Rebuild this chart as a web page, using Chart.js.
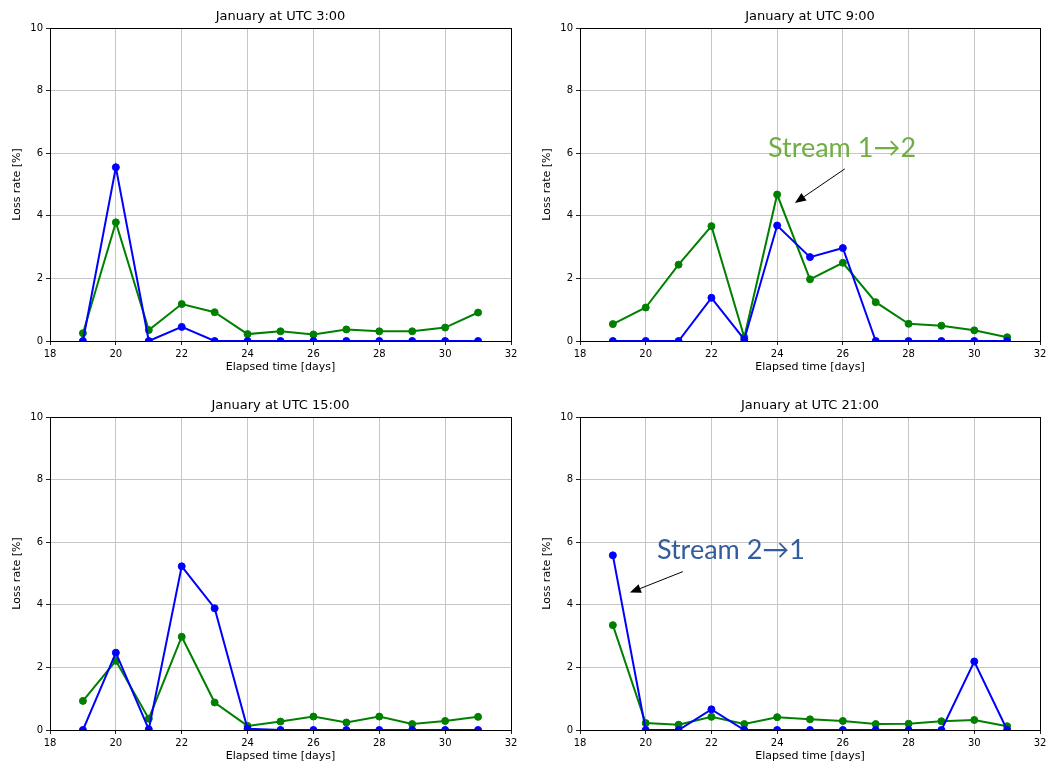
<!DOCTYPE html>
<html>
<head>
<meta charset="utf-8">
<script src="https://cdn.jsdelivr.net/npm/chart.js@4/dist/chart.umd.min.js"></script>
<style>
  html, body { margin: 0; padding: 0; background: #fff; }
  body { width: 1046px; height: 767px; overflow: hidden; position: relative; }
  .panel { position: absolute; }
</style>
</head>
<body>
<div class="panel" id="p1" style="left:0;top:0;width:523px;height:385px"><canvas id="c1"></canvas></div>
<div class="panel" id="p2" style="left:530px;top:0;width:520px;height:385px"><canvas id="c2"></canvas></div>
<div class="panel" id="p3" style="left:0;top:389px;width:523px;height:385px"><canvas id="c3"></canvas></div>
<div class="panel" id="p4" style="left:530px;top:389px;width:520px;height:385px"><canvas id="c4"></canvas></div>
<script>
// Elapsed time (days) of each measurement
const days = [19, 20, 21, 22, 23, 24, 25, 26, 27, 28, 29, 30, 31];

// Axis ranges / tick spacing
const xTickMin = 18, xTickMax = 32, xTickStep = 2;
const yTickMin = 0, yTickMax = 10, yTickStep = 2;

// Loss rate [%] — stream 2→1 (blue) and stream 1→2 (green)
const blueUTC03  = [0, 5.55, 0, 0.45, 0, 0, 0, 0, 0, 0, 0, 0, 0];
const greenUTC03 = [0.25, 3.79, 0.35, 1.18, 0.92, 0.22, 0.31, 0.21, 0.37, 0.31, 0.31, 0.43, 0.91];

const blueUTC09  = [0, 0, 0, 1.38, 0.05, 3.69, 2.68, 2.97, 0, 0, 0, 0, 0];
const greenUTC09 = [0.54, 1.07, 2.44, 3.67, 0.12, 4.68, 1.97, 2.50, 1.24, 0.55, 0.49, 0.34, 0.12];

const blueUTC15  = [0, 2.47, 0.02, 5.23, 3.89, 0.04, 0, 0, 0, 0, 0, 0, 0];
const greenUTC15 = [0.93, 2.21, 0.36, 2.98, 0.88, 0.13, 0.27, 0.43, 0.24, 0.43, 0.19, 0.29, 0.42];

const blueUTC21  = [5.58, 0, 0, 0.66, 0, 0, 0, 0, 0, 0, 0, 2.19, 0];
const greenUTC21 = [3.35, 0.22, 0.17, 0.42, 0.19, 0.41, 0.34, 0.29, 0.19, 0.20, 0.28, 0.32, 0.12];

const panelTitles = ['January at UTC 3:00', 'January at UTC 9:00', 'January at UTC 15:00', 'January at UTC 21:00'];

const BLUE = '#0000ff';
const GREEN = '#008000';

function toPoints(values) {
  return days.map((d, i) => ({ x: d, y: values[i] }));
}

// Title centred over the plot area, plus the full black frame (all four spines)
const framePlugin = {
  id: 'frame',
  afterDraw(chart, args, opts) {
    const { ctx, chartArea: a } = chart;
    ctx.save();
    ctx.strokeStyle = '#000';
    ctx.lineWidth = 1;
    ctx.strokeRect(Math.round(a.left) + 0.5, Math.round(a.top) + 0.5,
                   Math.round(a.right - a.left), Math.round(a.bottom - a.top));
    ctx.fillStyle = '#000';
    ctx.font = '13px "DejaVu Sans"';
    ctx.textAlign = 'center';
    ctx.textBaseline = 'middle';
    ctx.fillText(opts.title || '', (a.left + a.right) / 2, a.top - 11);
    ctx.restore();
  }
};

// Text callout with an arrow, positioned in data coordinates
const calloutPlugin = {
  id: 'callout',
  afterDraw(chart, args, opts) {
    if (!opts || !opts.text) return;
    const { ctx } = chart;
    const xs = chart.scales.x, ys = chart.scales.y;
    const px = v => xs.getPixelForValue(v);
    const py = v => ys.getPixelForValue(v);
    ctx.save();
    ctx.fillStyle = opts.color;
    ctx.font = opts.font;
    ctx.textAlign = 'left';
    ctx.textBaseline = 'middle';
    ctx.fillText(opts.text, px(opts.textX), py(opts.textY));

    const x0 = px(opts.tail[0]), y0 = py(opts.tail[1]);
    const x1 = px(opts.tip[0]), y1 = py(opts.tip[1]);
    const ang = Math.atan2(y1 - y0, x1 - x0);
    const headLen = 11, headHalf = 4.5;
    const bx = x1 - headLen * Math.cos(ang), by = y1 - headLen * Math.sin(ang);
    ctx.strokeStyle = '#000';
    ctx.lineWidth = 1;
    ctx.beginPath();
    ctx.moveTo(x0, y0);
    ctx.lineTo(bx, by);
    ctx.stroke();
    ctx.fillStyle = '#000';
    ctx.beginPath();
    ctx.moveTo(x1, y1);
    ctx.lineTo(bx + headHalf * Math.sin(ang), by - headHalf * Math.cos(ang));
    ctx.lineTo(bx - headHalf * Math.sin(ang), by + headHalf * Math.cos(ang));
    ctx.closePath();
    ctx.fill();
    ctx.restore();
  }
};

function makeChart(canvasId, title, blue, green, rightPad, callout) {
  const series = (values, color, order) => ({
    data: toPoints(values),
    borderColor: color,
    backgroundColor: color,
    borderWidth: 2,
    pointRadius: 3.5,
    pointBorderWidth: 1,
    pointHoverRadius: 3.5,
    pointBackgroundColor: color,
    pointBorderColor: color,
    tension: 0,
    clip: 0,
    order: order
  });
  return new Chart(document.getElementById(canvasId), {
    type: 'line',
    data: {
      datasets: [
        series(blue, BLUE, 0),
        series(green, GREEN, 1)
      ]
    },
    options: {
      responsive: true,
      maintainAspectRatio: false,
      animation: false,
      events: [],
      layout: { padding: { left: 0, right: rightPad, top: 28, bottom: 0 } },
      plugins: {
        legend: { display: false },
        tooltip: { enabled: false },
        title: { display: false },
        frame: { title: title },
        callout: callout || {}
      },
      scales: {
        x: {
          type: 'linear',
          min: xTickMin,
          max: xTickMax,
          afterFit: s => { s.height = 44; },
          ticks: {
            stepSize: xTickStep,
            autoSkip: false,
            maxRotation: 0,
            padding: 3,
            color: '#000',
            font: { family: 'DejaVu Sans', size: 10 }
          },
          grid: { color: '#c6c6c6', lineWidth: 1, tickColor: '#222', tickLength: 4 },
          border: { display: false },
          title: {
            display: true,
            text: 'Elapsed time [days]',
            color: '#000',
            font: { family: 'DejaVu Sans', size: 11 },
            padding: { top: 0, bottom: 11 }
          }
        },
        y: {
          type: 'linear',
          min: yTickMin,
          max: yTickMax,
          afterFit: s => { s.width = 50; },
          ticks: {
            stepSize: yTickStep,
            padding: 3,
            color: '#000',
            font: { family: 'DejaVu Sans', size: 10 }
          },
          grid: { color: '#c6c6c6', lineWidth: 1, tickColor: '#222', tickLength: 4 },
          border: { display: false },
          title: {
            display: true,
            text: 'Loss rate [%]',
            color: '#000',
            font: { family: 'DejaVu Sans', size: 11 },
            padding: { top: 11, bottom: 0 }
          }
        }
      }
    },
    plugins: [framePlugin, calloutPlugin]
  });
}

makeChart('c1', panelTitles[0], blueUTC03, greenUTC03, 12, null);
makeChart('c2', panelTitles[1], blueUTC09, greenUTC09, 10, {
  text: 'Stream 1\u21922', color: '#70ad47', font: '27px Lato',
  textX: 23.72, textY: 6.15, tail: [26.06, 5.5], tip: [24.54, 4.41]
});
makeChart('c3', panelTitles[2], blueUTC15, greenUTC15, 12, null);
makeChart('c4', panelTitles[3], blueUTC21, greenUTC21, 10, {
  text: 'Stream 2\u21921', color: '#335c9e', font: '27px Lato',
  textX: 20.34, textY: 5.74, tail: [21.13, 5.06], tip: [19.52, 4.39]
});
</script>
</body>
</html>
